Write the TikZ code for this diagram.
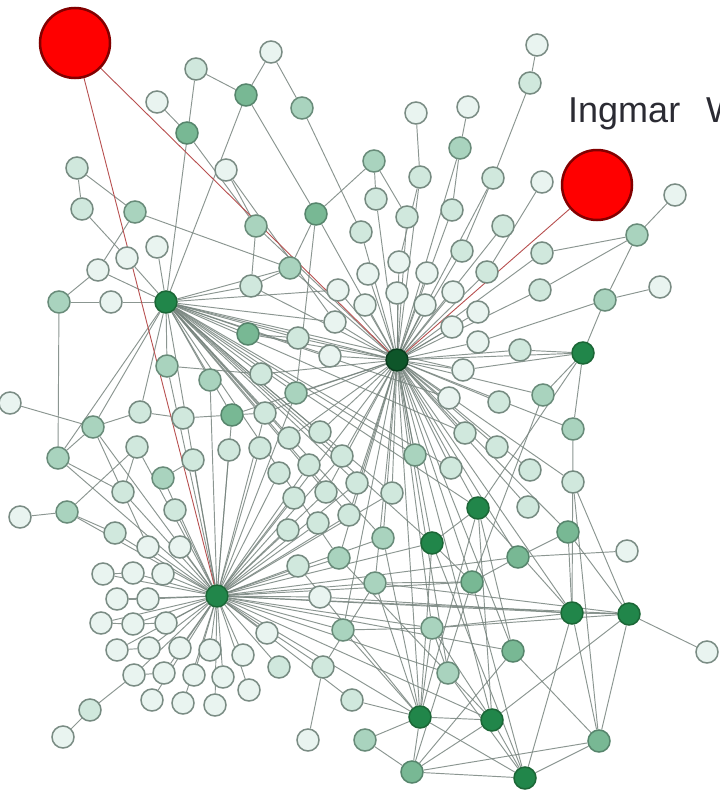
\documentclass[tikz,border=0pt]{standalone}
\usepackage{fontspec}
\setmainfont{Liberation Sans}
\usetikzlibrary{backgrounds}
\definecolor{c0}{HTML}{E9F4F0}
\definecolor{c1}{HTML}{D0E8DD}
\definecolor{c2}{HTML}{A9D3BE}
\definecolor{c3}{HTML}{78B894}
\definecolor{c4}{HTML}{21864A}
\definecolor{c5}{HTML}{0E562A}
\definecolor{b0}{HTML}{7A8C84}
\definecolor{b1}{HTML}{758A80}
\definecolor{b2}{HTML}{688B79}
\definecolor{b3}{HTML}{56856C}
\definecolor{b4}{HTML}{1B6636}
\definecolor{b5}{HTML}{0A3B1D}
\definecolor{edgec}{HTML}{77847E}
\definecolor{redl}{HTML}{B85050}
\definecolor{txt}{HTML}{2B2B33}
\pgfdeclarelayer{bgzero}
\pgfdeclarelayer{lines}
\pgfsetlayers{bgzero,lines,main}
\tikzset{
  nd/.style={circle, minimum size=22pt, inner sep=0pt, line width=1.5pt},
  bignd/.style={circle, minimum size=70pt, inner sep=0pt, line width=2.5pt, fill=red, draw={rgb,255:red,130;green,0;blue,0}},
  lnk/.style={draw=edgec, line width=0.95pt, opacity=0.85},
  redlnk/.style={draw=redl, line width=0.9pt},
}
\begin{document}
\begin{tikzpicture}[x=1pt,y=-1pt]
\useasboundingbox (0,0) rectangle (720,790);
\clip (0,0) rectangle (720,790);
\begin{pgfonlayer}{bgzero}
\fill[white] (0,0) rectangle (720,790);
\end{pgfonlayer}
% nodes
\foreach \x/\y/\s in {
271/52/0, 196/69/1, 246/95/3, 302/108/2, 157/102/0, 187/133/3, 77/168/1, 226/170/0,
82/209/1, 135/212/2, 256/226/2, 316/214/3, 157/247/0, 127/258/0, 98/270/0, 290/268/2,
251/286/1, 59/302/2, 111/302/0, 166/302/4, 338/290/0, 335/322/0, 248/334/3, 298/338/1,
330/356/0, 167/366/2, 210/380/2, 261/374/1, 296/393/2,
537/45/0, 530/83/1, 416/113/0, 468/107/0, 460/148/2, 374/161/2, 420/177/1, 493/178/1,
542/182/0, 376/199/1, 452/210/1, 407/217/1, 361/232/1, 503/226/1, 675/195/0, 637/235/2,
542/253/1, 462/251/1, 399/262/0, 368/274/0, 427/273/0, 487/272/1, 540/290/1, 660/287/0,
605/300/2, 397/293/0, 453/292/0, 365/305/0, 425/305/0, 478/312/0, 452/327/0, 478/342/0,
520/350/1, 583/353/4, 397/360/5, 463/370/0, 543/395/2, 499/402/1, 449/398/0, 573/429/2,
465/433/1, 497/447/1, 451/468/1, 530/470/1, 573/482/1, 478/508/4, 528/507/1, 568/532/3,
518/557/3, 627/551/0, 415/455/2,
10/403/0, 93/427/2, 58/458/2, 20/517/0, 67/512/2, 140/412/1, 183/418/1, 232/415/3,
137/447/1, 193/460/1, 229/450/1, 163/478/2, 123/492/1, 175/510/1, 115/533/1, 148/547/0,
180/547/0,
265/413/1, 320/432/1, 289/438/1, 260/448/1, 342/456/1, 309/465/1, 279/473/1, 357/483/1,
326/492/1, 392/493/1, 294/498/1, 349/515/1, 318/523/1, 288/530/1, 383/538/2, 432/543/4,
339/558/2, 298/566/1,
103/574/0, 133/573/0, 163/574/0, 217/596/4, 117/599/0, 148/599/0, 101/623/0, 133/624/0,
166/623/0, 267/633/0, 117/650/0, 149/648/0, 180/648/0, 210/650/0, 243/655/0, 279/667/1,
134/675/0, 164/673/0, 194/675/0, 223/677/0, 249/690/0, 152/700/0, 183/703/0, 215/705/0,
90/710/1, 63/737/0, 308/740/0,
375/583/2, 472/582/3, 320/597/0, 343/630/2, 432/628/2, 513/651/3, 323/667/1, 448/673/2,
352/700/1, 420/717/4, 492/720/4, 365/740/2, 412/772/3, 525/778/4, 599/741/3, 572/613/4,
629/614/4, 707/652/0}
  \node[nd, fill=c\s, draw=b\s] (p\x x\y) at (\x,\y) {};
\node[bignd] (r1) at (75,43) {};
\node[bignd] (r2) at (597,185) {};
\node[anchor=base west, text=txt, inner sep=0pt, font=\fontsize{36}{40}\selectfont] (title) at (568,122) {\spaceskip=26pt Ingmar W};
% connectors
\begin{pgfonlayer}{lines}
% hub 1
\foreach \b in {420x177, 376x199, 407x217, 361x232, 452x210, 462x251, 399x262, 368x274,
427x273, 487x272, 338x290, 397x293, 453x292, 365x305, 425x305, 478x312, 335x322, 452x327,
330x356, 478x342, 463x370, 298x338, 261x374, 316x214, 290x268, 256x226, 493x178, 460x148,
503x226, 542x253, 540x290, 520x350, 583x353, 543x395, 499x402, 449x398, 465x433, 497x447,
451x468, 530x470, 573x429, 478x508, 528x507, 568x532, 415x455, 392x493, 432x543, 383x538,
357x483, 342x456, 320x432, 289x438, 296x393, 265x413, 232x415, 166x302, 217x596, 472x582,
420x717, 492x720, 432x628, 448x673, 572x613, 343x630, 339x558, 248x334, 251x286, 326x492,
349x515, 513x651, 375x583, 573x482, 518x557}
  \draw[lnk] (p397x360) -- (p\b);
% hub 2
\foreach \b in {290x268, 251x286, 298x338, 330x356, 335x322, 338x290, 248x334, 261x374,
296x393, 320x432, 342x456, 357x483, 392x493, 415x455, 451x468, 465x433, 463x370, 432x543,
478x508, 383x538, 349x515, 289x438, 265x413, 232x415, 210x380, 167x366, 217x596, 339x558,
326x492, 449x398, 93x427, 58x458, 140x412}
  \draw[lnk] (p166x302) -- (p\b);
% hub 3
\foreach \b in {103x574, 133x573, 163x574, 117x599, 148x599, 101x623, 133x624, 166x623,
117x650, 149x648, 180x648, 210x650, 243x655, 134x675, 164x673, 194x675, 223x677, 249x690,
152x700, 183x703, 215x705, 148x547, 180x547, 115x533, 175x510, 123x492, 163x478, 137x447,
193x460, 229x450, 298x566, 267x633, 279x667, 320x597, 339x558, 375x583, 432x543, 472x582,
572x613, 629x614, 518x557, 343x630, 420x717, 492x720, 383x538, 288x530, 318x523, 294x498,
260x448, 279x473, 309x465, 326x492, 349x515, 58x458, 67x512, 93x427, 210x380, 167x366,
232x415, 265x413, 296x393, 392x493, 357x483, 342x456, 432x628, 448x673, 513x651, 323x667,
352x700}
  \draw[lnk] (p217x596) -- (p\b);
% other connectors
\foreach \a/\b in {
537x45/530x83, 530x83/493x178, 416x113/420x177, 468x107/460x148, 460x148/452x210,
374x161/376x199, 374x161/316x214, 374x161/407x217, 542x182/487x272, 493x178/462x251,
420x177/399x262, 637x235/675x195, 637x235/542x253, 637x235/540x290, 637x235/605x300,
605x300/660x287, 605x300/583x353, 605x300/478x342, 583x353/520x350, 583x353/543x395,
583x353/573x429, 583x353/478x508, 583x353/463x370,
271x52/246x95, 271x52/302x108, 196x69/246x95, 196x69/166x302, 246x95/166x302,
246x95/316x214, 302x108/361x232, 157x102/187x133, 187x133/256x226, 77x168/82x209,
77x168/135x212, 82x209/127x258, 135x212/98x270, 135x212/290x268, 98x270/59x302,
59x302/111x302, 111x302/166x302, 59x302/58x458, 127x258/166x302, 157x247/166x302,
98x270/166x302, 226x170/256x226, 256x226/251x286, 251x286/290x268, 316x214/296x393,
316x214/290x268, 248x334/298x338, 226x170/335x322,
10x403/93x427, 93x427/58x458, 93x427/140x412, 93x427/148x547, 20x517/67x512,
67x512/115x533, 67x512/137x447, 140x412/183x418, 183x418/232x415, 232x415/265x413,
167x366/261x374, 123x492/137x447, 163x478/193x460, 58x458/123x492,
90x710/63x737, 90x710/134x675, 103x574/133x573, 117x599/148x599, 101x623/133x624,
133x624/166x623, 117x650/149x648, 134x675/164x673,
572x613/629x614, 629x614/707x652, 629x614/599x741, 572x613/599x741, 513x651/599x741,
599x741/525x778, 599x741/412x772, 572x613/525x778, 629x614/492x720, 420x717/492x720,
420x717/525x778, 412x772/525x778, 412x772/420x717, 492x720/525x778, 420x717/432x543,
492x720/478x508, 492x720/432x628, 420x717/432x628, 432x543/478x508, 432x543/472x582,
472x582/518x557, 518x557/627x551, 518x557/568x532, 568x532/572x613, 568x532/629x614,
573x482/629x614, 478x508/572x613, 478x508/513x651, 432x628/572x613, 343x630/420x717,
352x700/420x717, 365x740/412x772, 365x740/420x717, 308x740/323x667, 323x667/375x583,
343x630/432x628, 448x673/525x778, 448x673/432x628, 420x717/375x583, 412x772/492x720,
525x778/472x582, 412x772/513x651, 573x482/599x741, 432x543/525x778, 478x508/420x717,
383x538/420x717, 339x558/492x720, 298x566/420x717, 472x582/412x772, 320x597/572x613,
432x628/629x614, 375x583/629x614, 375x583/472x582, 543x395/472x582, 573x429/572x613}
  \draw[lnk] (p\a) -- (p\b);
\draw[redlnk] (r1) -- (p397x360);
\draw[redlnk] (r1) -- (p217x596);
\draw[redlnk] (r2) -- (p397x360);
\end{pgfonlayer}
\end{tikzpicture}
\end{document}
